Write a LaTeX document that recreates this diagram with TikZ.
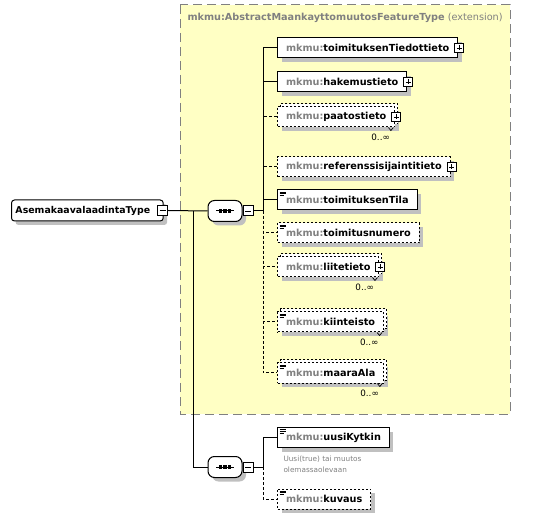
\documentclass[tikz,border=0pt]{standalone}
\usepackage{fontspec}
\setmainfont{DejaVu Sans}
\usetikzlibrary{shadows,positioning}
\definecolor{yellowbg}{HTML}{FFFFC4}
\definecolor{shade}{HTML}{C0C0C0}
\definecolor{mkgray}{HTML}{808080}
\newcommand{\mk}[1]{\textbf{\textcolor{mkgray}{mkmu:}#1}}

\begin{document}
\begin{tikzpicture}[x=1pt,y=-1pt,line width=1pt,font=\fontsize{9.7}{11}\selectfont,
    elem/.style={draw,fill=white,anchor=west,inner xsep=8.5pt,inner ysep=0pt,minimum height=20pt,
      drop shadow={shadow xshift=4pt,shadow yshift=-4pt,fill=shade,opacity=1}},
    opt/.style={elem,dash pattern=on 2pt off 2pt},
    multi/.style={opt,copy shadow={shadow xshift=3pt,shadow yshift=3pt,draw=black,fill=white,opacity=1}},
    doc/.style={path picture={\foreach \d/\w in {2/6,3.7/6,5.4/4}
        \draw[solid,line width=.7pt] ([xshift=2pt,yshift=-\d pt]path picture bounding box.north west) -- ++(\w pt,0);}},
    expand/.style={draw,solid,fill=white,minimum size=9pt,inner sep=0pt,
      path picture={\draw[line width=.8pt] ([xshift=2pt]path picture bounding box.west) -- ([xshift=-2pt]path picture bounding box.east);
        \draw[line width=.8pt] ([yshift=-2pt]path picture bounding box.north) -- ([yshift=2pt]path picture bounding box.south);}},
    collapse/.style={draw,fill=white,minimum size=10pt,inner sep=0pt,
      path picture={\draw[line width=.8pt] ([xshift=2pt]path picture bounding box.west) -- ([xshift=-2pt]path picture bounding box.east);}},
    typebox/.style={draw,fill=white,rounded corners=3pt,anchor=west,inner xsep=4pt,inner ysep=0pt,minimum height=21pt,
      font=\fontsize{9.4}{11}\selectfont,
      drop shadow={shadow xshift=4pt,shadow yshift=-4pt,fill=shade,opacity=1}},
    seq/.style={draw,fill=white,rounded corners=6.5pt,inner sep=0pt,minimum width=34pt,minimum height=21pt,
      drop shadow={shadow xshift=4pt,shadow yshift=-4pt,fill=shade,opacity=1},
      path picture={\draw[sharp corners] ([xshift=8pt]path picture bounding box.west) -- ([xshift=-8pt]path picture bounding box.east);
        \foreach \k in {-4.5,0,4.5} \fill[black,sharp corners] ([xshift=\k pt]path picture bounding box.center) +(-1.6pt,-1.6pt) rectangle +(1.6pt,1.6pt);}},
    mult/.style={anchor=north east,inner sep=0pt,font=\fontsize{8.8}{10}\selectfont},
    note/.style={anchor=north west,inner sep=0pt,align=left,text=mkgray,font=\fontsize{7.3}{11}\selectfont},
    link/.style={dash pattern=on 3pt off 2pt}]

  \useasboundingbox (0,0) rectangle (554,518);

  % extension frame
  \fill[yellowbg] (180,5) rectangle (510,414);
  \draw[mkgray,dash pattern=on 9pt off 5pt] (180,5) rectangle (510,414);
  \node[anchor=west,inner sep=0pt,text=mkgray] (exttitle) at (187,18) {\textbf{mkmu:AbstractMaankayttomuutosFeatureType} (extension)};

  % type and compositors
  \node[typebox] (asema) at (11,210.5) {\textbf{AsemakaavalaadintaType}\rule{9pt}{0pt}};
  \node[collapse] (asemam) at ([xshift=-1pt]asema.east) {};
  \node[seq] (seqA) at (225,211) {};
  \node[collapse] (seqAm) at ([xshift=5.5pt]seqA.east) {};
  \node[seq] (seqB) at (225,467) {};
  \node[collapse] (seqBm) at ([xshift=5.5pt]seqB.east) {};

  % elements of the extension
  \node[elem] (tiedot) at (277,48) {\mk{toimituksenTiedottieto}};
  \node[expand] (tiedotx) at ([xshift=1pt]tiedot.east) {};
  \node[elem] (hakemus) at (277,82) {\mk{hakemustieto}};
  \node[expand] (hakemusx) at ([xshift=1pt]hakemus.east) {};
  \node[multi] (paatos) at (277,117) {\mk{paatostieto}};
  \node[expand] (paatosx) at ([xshift=1pt]paatos.east) {};
  \node[mult] (paatosn) at ([xshift=-5pt,yshift=-6pt]paatos.south east) {0..∞};
  \node[opt] (referens) at (277,167) {\mk{referenssisijaintitieto}};
  \node[expand] (referensx) at ([xshift=1pt]referens.east) {};
  \node[elem,doc] (tila) at (277,200) {\mk{toimituksenTila}};
  \node[opt,doc] (numero) at (277,233) {\mk{toimitusnumero}};
  \node[multi] (liite) at (277,267) {\mk{liitetieto}};
  \node[expand] (liitex) at ([xshift=1pt]liite.east) {};
  \node[mult] (liiten) at ([xshift=-5pt,yshift=-6pt]liite.south east) {0..∞};
  \node[multi,doc] (kiint) at (277,322) {\mk{kiinteisto}};
  \node[mult] (kiintn) at ([xshift=-5pt,yshift=-6pt]kiint.south east) {0..∞};
  \node[multi,doc] (maara) at (277,373) {\mk{maaraAla}};
  \node[mult] (maaran) at ([xshift=-5pt,yshift=-6pt]maara.south east) {0..∞};
  \foreach \n in {paatos,liite,kiint,maara}
    \draw[line width=.7pt] ([xshift=-7pt]\n.south east) -- ++(2.5,3) -- ++(2.5,-3);

  % own elements
  \node[elem,doc] (uusi) at (277,437.5) {\mk{uusiKytkin}};
  \node[note] (uusinote) at ([xshift=6pt,yshift=-7pt]uusi.south west) {Uusi(true) tai muutos\\olemassaolevaan};
  \node[opt,doc] (kuvaus) at (277,499) {\mk{kuvaus}};

  % connectors
  \coordinate (fork) at (193,211);
  \coordinate (busA) at (263,211);
  \coordinate (busB) at (263,467);
  \draw (asemam.east) -- (seqA.west);
  \draw (fork) |- (seqB.west);
  \draw (seqAm.east) -- (busA);
  \draw (busA) |- (tiedot.west);
  \draw (busA) |- (hakemus.west);
  \draw (busA) |- (tila.west);
  \draw[link] (busA) |- (paatos.west);
  \draw[link] (busA) |- (referens.west);
  \draw[link] (busA) |- (numero.west);
  \draw[link] (busA) |- (liite.west);
  \draw[link] (busA) |- (kiint.west);
  \draw[link] (busA) |- (maara.west);
  \draw (seqBm.east) -- (busB);
  \draw (busB) |- (uusi.west);
  \draw[link] (busB) |- (kuvaus.west);
\end{tikzpicture}
\end{document}
